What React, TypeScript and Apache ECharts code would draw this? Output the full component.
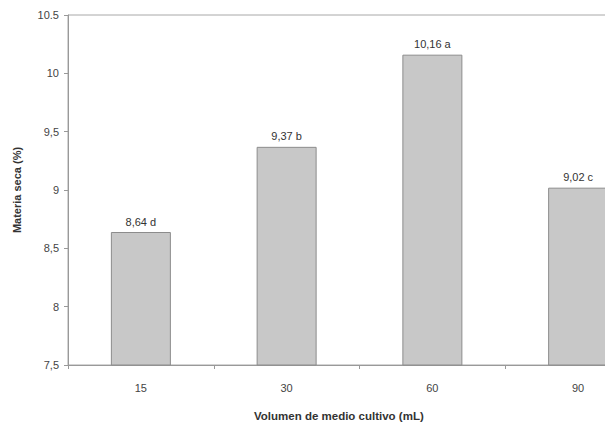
import React, { useEffect, useRef } from "react";
import * as echarts from "echarts";

const categories = ["15", "30", "60", "90"];
const values = [8.64, 9.37, 10.16, 9.02];
const letters = ["d", "b", "a", "c"];
const yTicks = [7.5, 8, 8.5, 9, 9.5, 10, 10.5];

const FONT = "Liberation Sans";

function fmtY(v: number): string {
  if (v === 10.5) return "10.5";
  return String(v).replace(".", ",");
}

export default function App() {
  const ref = useRef<HTMLDivElement>(null);
  useEffect(() => {
    document.body.style.margin = "0";
    if (!ref.current) return;
    const chart = echarts.init(ref.current, null, { renderer: "svg" });
    chart.setOption({
      animation: false,
      backgroundColor: "#ffffff",
      textStyle: { fontFamily: FONT },
      grid: {
        left: 68,
        top: 15,
        width: 583,
        height: 350,
        outerBoundsMode: "none",
        containLabel: false,
        show: true,
        borderColor: "#a8a8a8",
        borderWidth: 1,
        backgroundColor: "transparent",
      },
      xAxis: {
        type: "category",
        data: categories,
        axisLine: { lineStyle: { color: "#999999", width: 1 } },
        axisTick: { show: true, length: 4, lineStyle: { color: "#999999" } },
        axisLabel: { color: "#444444", fontSize: 11, margin: 17, fontFamily: FONT },
        splitLine: { show: false },
      },
      yAxis: {
        type: "value",
        min: yTicks[0],
        max: yTicks[yTicks.length - 1],
        interval: 0.5,
        name: "Materia seca (%)",
        nameLocation: "middle",
        nameGap: 46,
        nameRotate: 90,
        nameTextStyle: { color: "#333333", fontSize: 11, fontWeight: "bold", fontFamily: FONT },
        axisLine: { show: true, lineStyle: { color: "#999999", width: 1 } },
        axisTick: { show: true, length: 4, lineStyle: { color: "#999999" } },
        axisLabel: {
          color: "#444444",
          fontSize: 11,
          margin: 9,
          fontFamily: FONT,
          formatter: (v: number) => fmtY(v),
        },
        splitLine: { show: false },
      },
      graphic: [
        {
          type: "text",
          left: 254,
          top: 410,
          style: {
            text: "Volumen de medio cultivo (mL)",
            fill: "#333333",
            font: `bold 11.5px "${FONT}"`,
          },
        },
      ],
      series: [
        {
          type: "bar",
          data: values,
          barWidth: 60,
          itemStyle: {
            color: "#c8c8c8",
            borderColor: "#8c8c8c",
            borderWidth: 1,
          },
          label: {
            show: true,
            position: "top",
            distance: 5,
            color: "#333333",
            fontSize: 11,
            fontFamily: FONT,
            formatter: (p: any) =>
              String(values[p.dataIndex]).replace(".", ",") + " " + letters[p.dataIndex],
          },
        },
      ],
    });
    return () => chart.dispose();
  }, []);
  return <div ref={ref} style={{ width: 605, height: 425 }} />;
}
